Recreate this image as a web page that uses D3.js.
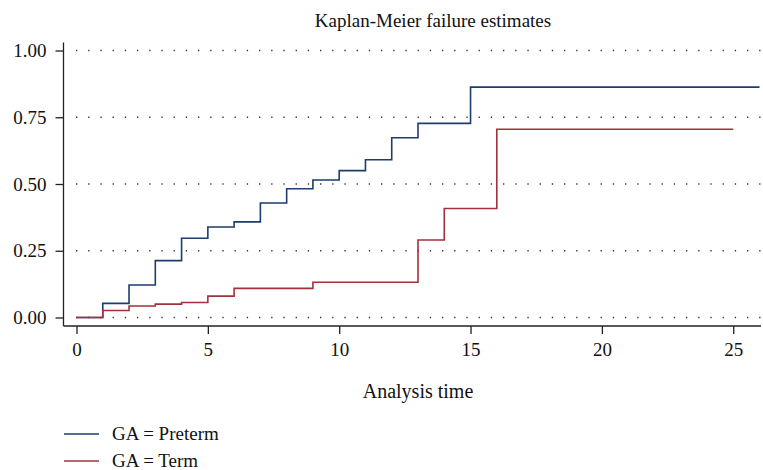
<!DOCTYPE html>
<html lang="en">
<head>
<meta charset="UTF-8">
<title>Kaplan-Meier failure estimates</title>
<script src="https://cdn.jsdelivr.net/npm/d3@7"></script>
<style>
  body { margin: 0; background: #fff; }
</style>
</head>
<body>
<div id="chart"></div>
<script>
// step times and failure estimates
var pretermTimes = [0, 1, 2, 3, 4, 5, 6, 7, 8, 9, 10, 11, 12, 13, 15, 26];
var pretermFail  = [0, 0.053, 0.122, 0.213, 0.297, 0.339, 0.358, 0.429, 0.482, 0.515, 0.55, 0.591, 0.673, 0.727, 0.863, 0.863];
var termTimes = [0, 1, 2, 3, 4, 5, 6, 9, 13, 14, 16, 25];
var termFail  = [0, 0.026, 0.043, 0.05, 0.056, 0.08, 0.109, 0.132, 0.29, 0.408, 0.705, 0.705];
var xTicks = [0, 5, 10, 15, 20, 25];
var yTicks = [0, 0.25, 0.5, 0.75, 1];
var seriesNames = ["GA = Preterm", "GA = Term"];
var seriesColors = ["#1c3d6e", "#a4303c"];

var FONT = "'Liberation Serif', 'Times New Roman', Times, serif";
var width = 763, height = 470;
var svg = d3.select("#chart").append("svg")
    .attr("width", width)
    .attr("height", height);

var x = d3.scaleLinear().domain([0, 26]).range([76.5, 759.5]);
var y = d3.scaleLinear().domain([0, 1]).range([317.5, 50.5]);

// dotted grid
svg.append("g")
    .selectAll("line")
    .data(yTicks)
    .enter()
    .append("line")
    .attr("x1", 76)
    .attr("x2", 762)
    .attr("y1", function(d){ return y(d); })
    .attr("y2", function(d){ return y(d); })
    .attr("stroke", "#333")
    .attr("stroke-width", 1.3)
    .attr("stroke-dasharray", "1.3,10.9");

// y axis
var yAxis = svg.append("g")
    .attr("transform", "translate(63.5,0)")
    .call(d3.axisLeft(y).tickValues(yTicks).tickFormat(d3.format(".2f")).tickSize(8).tickPadding(9));
yAxis.select(".domain").attr("d", "M0,42.5V326");

// x axis
var xAxis = svg.append("g")
    .attr("transform", "translate(0,326)")
    .call(d3.axisBottom(x).tickValues(xTicks).tickSize(8).tickPadding(9));
xAxis.select(".domain").attr("d", "M63.5,0H761");

svg.selectAll(".tick text")
    .style("font-family", FONT)
    .style("font-size", "19px")
    .attr("fill", "#111");
svg.selectAll(".domain, .tick line").attr("stroke", "#222").attr("stroke-width", 1.3);

// step lines
var line = d3.line()
    .x(function(d){ return x(d[0]); })
    .y(function(d){ return y(d[1]); })
    .curve(d3.curveStepAfter);

var series = [d3.zip(pretermTimes, pretermFail), d3.zip(termTimes, termFail)];
svg.selectAll("path.km")
    .data(series)
    .enter()
    .append("path")
    .attr("class", "km")
    .attr("d", line)
    .attr("fill", "none")
    .attr("stroke", function(d, i){ return seriesColors[i]; })
    .attr("stroke-width", 1.6);

// titles
svg.append("text")
    .attr("x", 433)
    .attr("y", 27)
    .attr("text-anchor", "middle")
    .style("font-family", FONT)
    .style("font-size", "19px")
    .attr("fill", "#111")
    .text("Kaplan-Meier failure estimates");

svg.append("text")
    .attr("x", 418)
    .attr("y", 398)
    .attr("text-anchor", "middle")
    .style("font-family", FONT)
    .style("font-size", "20px")
    .attr("fill", "#111")
    .text("Analysis time");

// legend
var legend = svg.append("g").attr("class", "legend");
legend.selectAll("line")
    .data(seriesNames)
    .enter()
    .append("line")
    .attr("x1", 64)
    .attr("x2", 99)
    .attr("y1", function(d, i){ return 434 + i * 27; })
    .attr("y2", function(d, i){ return 434 + i * 27; })
    .attr("stroke", function(d, i){ return seriesColors[i]; })
    .attr("stroke-width", 1.3);
legend.selectAll("text")
    .data(seriesNames)
    .enter()
    .append("text")
    .attr("x", 112)
    .attr("y", function(d, i){ return 440 + i * 27; })
    .style("font-family", FONT)
    .style("font-size", "19px")
    .attr("fill", "#111")
    .text(function(d){ return d; });
</script>
</body>
</html>
